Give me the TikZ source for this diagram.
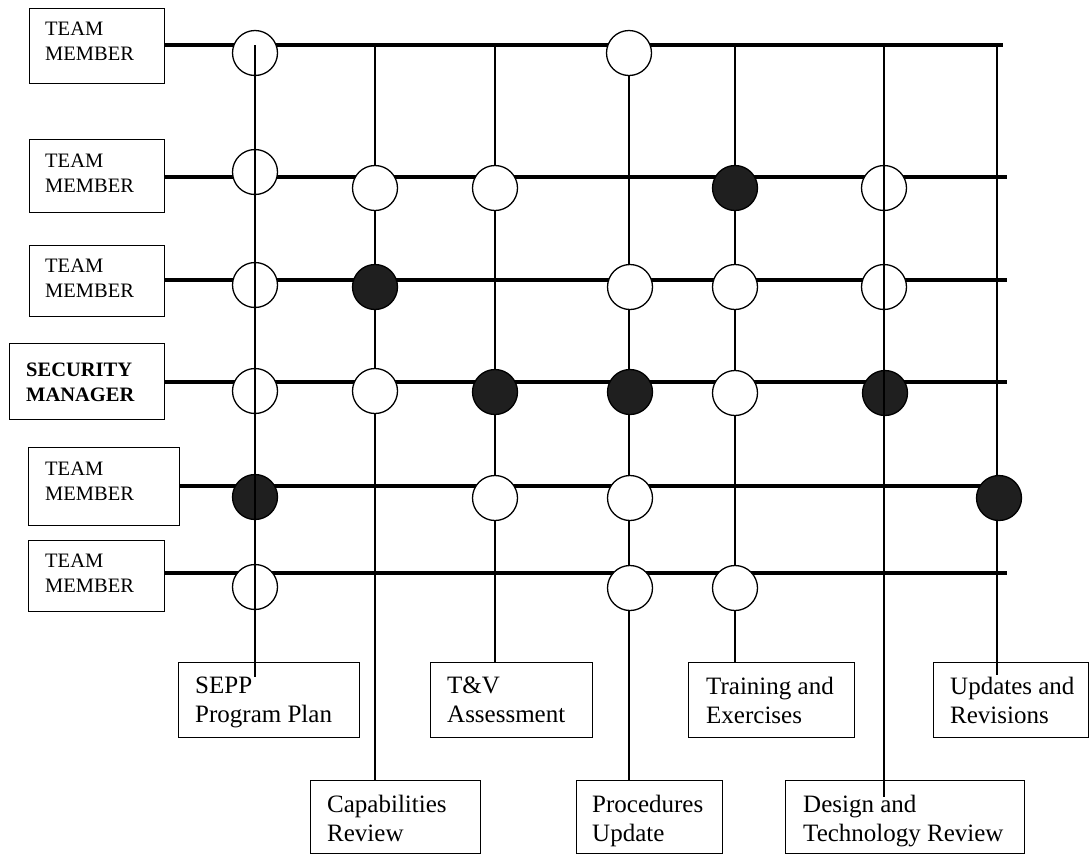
\documentclass[tikz,border=0pt]{standalone}
\usepackage{fontspec}
\setmainfont{Liberation Serif}
\begin{document}
\begin{tikzpicture}[x=1pt,y=-1pt,
  frame/.style={draw, line width=1.2pt, anchor=north west, inner sep=0pt},
  lbl/.style={anchor=north west, inner sep=0pt, align=left, font=\fontsize{20.5}{25}\selectfont},
  blbl/.style={anchor=north west, inner sep=0pt, align=left, font=\fontsize{25}{29}\selectfont},
  hline/.style={line width=3.3pt},
  vline/.style={line width=1.6pt},
  oc/.style={circle, draw, line width=1.3pt, fill=white, minimum size=45pt, inner sep=0pt},
  fc/.style={oc, fill=black!88}]
\useasboundingbox (0,0) rectangle (1089,855);

% left boxes
\node[frame, minimum width=135pt, minimum height=75pt] (tm1) at (29,8) {};
\node[frame, minimum width=135pt, minimum height=73pt] (tm2) at (29,139) {};
\node[frame, minimum width=135pt, minimum height=71pt] (tm3) at (29,245) {};
\node[frame, minimum width=155pt, minimum height=76pt] (sec) at (9,343) {};
\node[frame, minimum width=151pt, minimum height=78pt] (tm5) at (28,447) {};
\node[frame, minimum width=136pt, minimum height=71pt] (tm6) at (28,540) {};
\node[lbl] (tm1t) at (45,21.4) {TEAM\\MEMBER};
\node[lbl] (tm2t) at (45,153.4) {TEAM\\MEMBER};
\node[lbl] (tm3t) at (45,258.4) {TEAM\\MEMBER};
\node[lbl, font=\fontsize{20.5}{25}\selectfont\bfseries] (sect) at (26,363) {SECURITY\\MANAGER};
\node[lbl] (tm5t) at (45,461.4) {TEAM\\MEMBER};
\node[lbl] (tm6t) at (45,553.4) {TEAM\\MEMBER};

% bottom boxes
\node[frame, minimum width=181pt, minimum height=75pt] (sepp) at (178,662) {};
\node[frame, minimum width=162pt, minimum height=75pt] (tv) at (430,662) {};
\node[frame, minimum width=166pt, minimum height=75pt] (train) at (688,662) {};
\node[frame, minimum width=155pt, minimum height=75pt] (upd) at (933,662) {};
\node[frame, minimum width=170pt, minimum height=73pt] (cap) at (310,780) {};
\node[frame, minimum width=146pt, minimum height=73pt] (proc) at (576,780) {};
\node[frame, minimum width=239pt, minimum height=73pt] (des) at (785,780) {};
\node[blbl] (seppt) at (195,677) {SEPP\\Program Plan};
\node[blbl] (tvt) at (447,677) {T\&V\\Assessment};
\node[blbl] (traint) at (706,677) {Training and\\Exercises};
\node[blbl] (updt) at (950,677) {Updates and\\Revisions};
\node[blbl] (capt) at (327,795) {Capabilities\\Review};
\node[blbl] (proct) at (592,795) {Procedures\\Update};
\node[blbl] (dest) at (803,795) {Design and\\Technology Review};

% row end coordinates
\coordinate (e1) at (1003,45);
\coordinate (e2) at (1007,177);
\coordinate (e3) at (1007,280);
\coordinate (e4) at (1007,382);
\coordinate (e5) at (999,486);
\coordinate (e6) at (1007,573);

% column top / bottom coordinates
\coordinate (sTop) at (255,45);  \coordinate (sBot) at (255,677);
\coordinate (cTop) at (375,45);
\coordinate (tTop) at (495,45);
\coordinate (pTop) at (629,53);
\coordinate (rTop) at (735,45);
\coordinate (dTop) at (884,45);  \coordinate (dBot) at (884,797);
\coordinate (uTop) at (997,45);  \coordinate (uBot) at (997,675);

% horizontal lines
\draw[hline] (tm1.east |- e1) -- (e1);
\draw[hline] (tm2.east |- e2) -- (e2);
\draw[hline] (tm3.east |- e3) -- (e3);
\draw[hline] (sec.east |- e4) -- (e4);
\draw[hline] (tm5.east |- e5) -- (e5);
\draw[hline] (tm6.east |- e6) -- (e6);

% vertical lines hidden by circles
\draw[vline] (cTop) -- (cap.north -| cTop);
\draw[vline] (tTop) -- (tv.north -| tTop);
\draw[vline] (pTop) -- (proc.north -| pTop);
\draw[vline] (rTop) -- (train.north -| rTop);
\draw[vline] (uTop) -- (uBot);

% circles
\node[oc] (a1) at (255,53) {};
\node[oc] (d1) at (629,53) {};
\node[oc] (a2) at (255,172) {};
\node[oc] (b2) at (375,188) {};
\node[oc] (c2) at (495,188) {};
\node[fc] (e2c) at (735,188) {};
\node[oc] (f2) at (884,188) {};
\node[oc] (a3) at (255,285) {};
\node[fc] (b3) at (375,287) {};
\node[oc] (d3) at (630,287) {};
\node[oc] (e3c) at (735,287) {};
\node[oc] (f3) at (884,287) {};
\node[oc] (a4) at (255,391) {};
\node[oc] (b4) at (375,391) {};
\node[fc] (c4) at (495,392) {};
\node[fc] (d4) at (630,392) {};
\node[oc] (e4c) at (735,393) {};
\node[fc] (f4) at (885,393) {};
\node[fc] (a5) at (255,497) {};
\node[oc] (c5) at (495,498) {};
\node[oc] (d5) at (630,498) {};
\node[fc] (g5) at (999,498) {};
\node[oc] (a6) at (255,587) {};
\node[oc] (d6) at (630,588) {};
\node[oc] (e6c) at (735,588) {};

% vertical lines drawn through circles
\draw[vline] (sTop) -- (sBot);
\draw[vline] (dTop) -- (dBot);
\end{tikzpicture}
\end{document}
